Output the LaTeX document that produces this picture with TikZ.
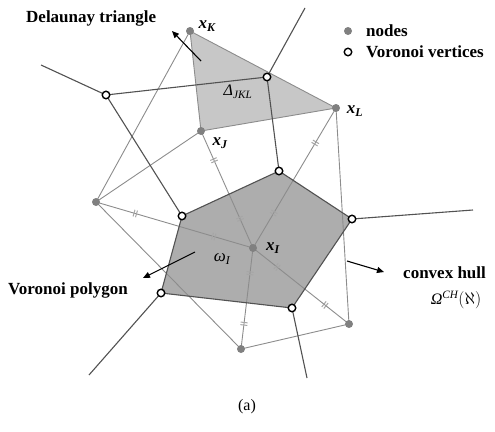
\documentclass[tikz,border=0pt]{standalone}
\usepackage{fontspec}
\setmainfont{Liberation Serif}
\usetikzlibrary{decorations.markings,arrows.meta}
\begin{document}
\begin{tikzpicture}[x=1pt,y=-1pt,
  vedge/.style={draw=black!68, line width=1.1pt},
  dedge/.style={draw=black!45, line width=0.9pt},
  nodedot/.style={circle, fill=black!50, inner sep=0pt, minimum size=8pt},
  vvert/.style={circle, draw=black, fill=white, line width=1.4pt, inner sep=0pt, minimum size=7.5pt},
  eqticks/.style={postaction={decorate}, decoration={markings,
     mark=at position 0.25 with {\draw[black!35, line width=1pt] (-1.3pt,-3.5pt)--(-1.3pt,3.5pt) (1.3pt,-3.5pt)--(1.3pt,3.5pt);},
     mark=at position 0.75 with {\draw[black!35, line width=1pt] (-1.3pt,-3.5pt)--(-1.3pt,3.5pt) (1.3pt,-3.5pt)--(1.3pt,3.5pt);}}},
  lbl/.style={font=\bfseries\fontsize{17}{19}\selectfont, inner sep=0pt},
  mlbl/.style={font=\bfseries\itshape\fontsize{17}{19}\selectfont, inner sep=0pt},
  pointer/.style={draw=black, line width=1.1pt, -{Triangle[length=7pt,width=6pt]}}
]
\useasboundingbox (0,0) rectangle (495,431);
% Delaunay nodes
\coordinate (K) at (190,31);
\coordinate (J) at (201,131);
\coordinate (L) at (336,108);
\coordinate (I) at (253,248);
\coordinate (P) at (96,202);
\coordinate (B) at (241,349);
\coordinate (R) at (349,324);
% Voronoi vertices
\coordinate (V1) at (106,95);
\coordinate (V2) at (267,77);
\coordinate (V3) at (279,171);
\coordinate (V4) at (182,216);
\coordinate (V5) at (352,219);
\coordinate (V6) at (161,293);
\coordinate (V7) at (292,308);
% free ends
\coordinate (E1) at (41,65);
\coordinate (E2) at (305,8);
\coordinate (E3) at (473,210);
\coordinate (E4) at (307,378);
\coordinate (E5) at (89,375);

% fills
\fill[black!22] (K) -- (L) -- (J) -- cycle;
\fill[black!32] (V4) -- (V3) -- (V5) -- (V7) -- (V6) -- cycle;

% Delaunay edges
\draw[dedge] (K) -- (L) (L) -- (J) (J) -- (K);
\draw[dedge] (K) -- (P) (J) -- (P) (P) -- (B) (B) -- (R) (L) -- (R);
\draw[dedge, eqticks] (J) -- (I);
\draw[dedge, eqticks] (L) -- (I);
\draw[dedge, eqticks] (P) -- (I);
\draw[dedge, eqticks] (I) -- (B);
\draw[dedge, eqticks] (I) -- (R);

% Voronoi edges
\draw[vedge] (E1) -- (V1) (V1) -- (V2) (V1) -- (V4) (V2) -- (E2) (V2) -- (V3);
\draw[vedge] (V4) -- (V3) -- (V5) -- (V7) -- (V6) -- (V4);
\draw[vedge] (V5) -- (E3) (V7) -- (E4) (V6) -- (E5);

% markers
\foreach \p in {K,J,L,I,P,B,R} \node[nodedot] (n\p) at (\p) {};
\foreach \v in {V1,V2,V3,V4,V5,V6,V7} \node[vvert] (m\v) at (\v) {};

% labels
\node[mlbl] (lK) at (207,26) {x\textsubscript{K}};
\node[mlbl] (lJ) at (220,143) {x\textsubscript{J}};
\node[mlbl] (lL) at (355,111) {x\textsubscript{L}};
\node[mlbl] (lI) at (273,248) {x\textsubscript{I}};
\node[mlbl, font=\itshape\fontsize{16}{18}\selectfont] (lD) at (238,92) {Δ\textsubscript{JKL}};
\node[mlbl, font=\itshape\fontsize{17}{19}\selectfont] (lW) at (222,259) {ω\textsubscript{I}};

% pointer labels
\node[lbl, anchor=west] (tD) at (26,18) {Delaunay triangle};
\coordinate (aD1) at (201,61);
\coordinate (aD2) at (172,31);
\draw[pointer] (aD1) -- (aD2);

\node[lbl, anchor=west] (tV) at (8,290) {Voronoi polygon};
\coordinate (aV1) at (195,252);
\coordinate (aV2) at (143,278);
\draw[pointer] (aV1) -- (aV2);

\node[lbl, anchor=west] (tC) at (403,273) {convex hull};
\node[inner sep=0pt, font=\fontsize{16}{18}\selectfont] (tO) at (456,300) {{\itshape Ω\textsuperscript{CH}}$(\aleph)$};
\coordinate (aC1) at (347,261);
\coordinate (aC2) at (384,272);
\draw[pointer] (aC1) -- (aC2);

% legend
\node[nodedot] (legN) at (348,31) {};
\node[lbl, anchor=west] (legNt) at (366,31) {nodes};
\node[vvert] (legV) at (348,52) {};
\node[lbl, anchor=west] (legVt) at (366,52) {Voronoi vertices};

\node[inner sep=0pt, font=\fontsize{16}{18}\selectfont] (cap) at (247,407) {(a)};
\end{tikzpicture}
\end{document}
